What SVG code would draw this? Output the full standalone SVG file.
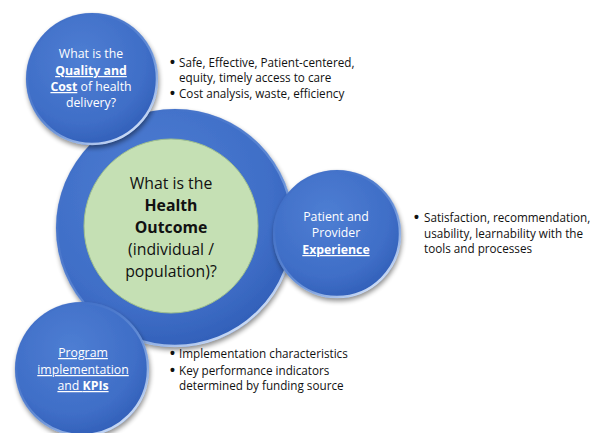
<svg xmlns="http://www.w3.org/2000/svg" width="597" height="433" viewBox="0 0 597 433">
  <defs>
    <radialGradient id="blueFill" cx="0.42" cy="0.35" r="0.7">
      <stop offset="0" stop-color="#4e7ed3"/>
      <stop offset="0.7" stop-color="#3f6ec7"/>
      <stop offset="1" stop-color="#2f5db6"/>
    </radialGradient>
    <linearGradient id="rim" x1="0.2" y1="0.1" x2="0.85" y2="0.95">
      <stop offset="0" stop-color="#3a66be" stop-opacity="0.2"/>
      <stop offset="0.55" stop-color="#8fb3ea" stop-opacity="0.5"/>
      <stop offset="1" stop-color="#e6f0ff" stop-opacity="0.95"/>
    </linearGradient>
    <filter id="shadow" x="-20%" y="-20%" width="140%" height="140%">
      <feGaussianBlur in="SourceAlpha" stdDeviation="2.5"/>
      <feOffset dx="1" dy="2.5" result="b"/>
      <feComponentTransfer><feFuncA type="linear" slope="0.45"/></feComponentTransfer>
      <feMerge><feMergeNode/><feMergeNode in="SourceGraphic"/></feMerge>
    </filter>
  </defs>
  <style>
    .disc { fill: url(#blueFill); filter: url(#shadow); }
    .rim { fill: none; stroke: url(#rim); stroke-width: 2.5; }
    .wt { font-family: "Open Sans", "Liberation Sans", sans-serif; fill: #ffffff; font-size: 12.3px; text-anchor: middle; }
    .bt { font-family: "Open Sans", "Liberation Sans", sans-serif; fill: #111111; font-size: 11.7px; }
    .dot { font-family: "Liberation Sans", sans-serif; fill: #111111; font-size: 14px; font-weight: bold; }
    .ct { font-family: "Open Sans", "Liberation Sans", sans-serif; fill: #111111; font-size: 15.8px; text-anchor: middle; }
    .b { font-weight: bold; }
    .u { text-decoration: underline; }
  </style>

  <!-- central outcome node -->
  <g id="outcome">
    <circle class="disc" cx="175" cy="228" r="119"/>
    <circle class="rim" cx="175" cy="228" r="118"/>
    <circle cx="171" cy="226" r="87" fill="#c5e0b4" stroke="#9fbf8e" stroke-width="1"/>
    <text class="ct" x="171" y="189">What is the</text>
    <text class="ct b" x="171" y="211">Health</text>
    <text class="ct b" x="171" y="233">Outcome</text>
    <text class="ct" x="171" y="255">(individual /</text>
    <text class="ct" x="171" y="277">population)?</text>
  </g>

  <!-- quality and cost node -->
  <g id="quality">
    <circle class="disc" cx="92" cy="79" r="66"/>
    <circle class="rim" cx="92" cy="79" r="65"/>
    <text class="wt" x="91" y="58">What is the</text>
    <text class="wt" x="91" y="75"><tspan class="b u">Quality and</tspan></text>
    <text class="wt" x="91" y="91"><tspan class="b u">Cost</tspan> of health</text>
    <text class="wt" x="91" y="107">delivery?</text>
  </g>

  <!-- experience node -->
  <g id="experience">
    <circle class="disc" cx="337" cy="234" r="64"/>
    <circle class="rim" cx="337" cy="234" r="63"/>
    <text class="wt" x="336" y="221">Patient and</text>
    <text class="wt" x="336" y="237">Provider</text>
    <text class="wt b u" x="336" y="254">Experience</text>
  </g>

  <!-- program implementation node -->
  <g id="program">
    <circle class="disc" cx="82" cy="369" r="67"/>
    <circle class="rim" cx="82" cy="369" r="66"/>
    <text class="wt u" x="83" y="357">Program</text>
    <text class="wt u" x="83" y="374">implementation</text>
    <text class="wt u" x="83" y="390">and <tspan class="b">KPIs</tspan></text>
  </g>

  <g id="connectors"/>

  <!-- bullet annotations -->
  <g id="quality-notes">
    <text class="dot" x="170" y="67">•</text>
    <text class="bt" x="179" y="67">Safe, Effective, Patient-centered,</text>
    <text class="bt" x="179" y="82">equity, timely access to care</text>
    <text class="dot" x="170" y="98">•</text>
    <text class="bt" x="179" y="98">Cost analysis, waste, efficiency</text>
  </g>
  <g id="experience-notes">
    <text class="dot" x="414" y="222">•</text>
    <text class="bt" x="424" y="222">Satisfaction, recommendation,</text>
    <text class="bt" x="424" y="238">usability, learnability with the</text>
    <text class="bt" x="424" y="253">tools and processes</text>
  </g>
  <g id="program-notes">
    <text class="dot" x="170" y="358">•</text>
    <text class="bt" x="179" y="358">Implementation characteristics</text>
    <text class="dot" x="170" y="375">•</text>
    <text class="bt" x="179" y="375">Key performance indicators</text>
    <text class="bt" x="179" y="390">determined by funding source</text>
  </g>
</svg>
